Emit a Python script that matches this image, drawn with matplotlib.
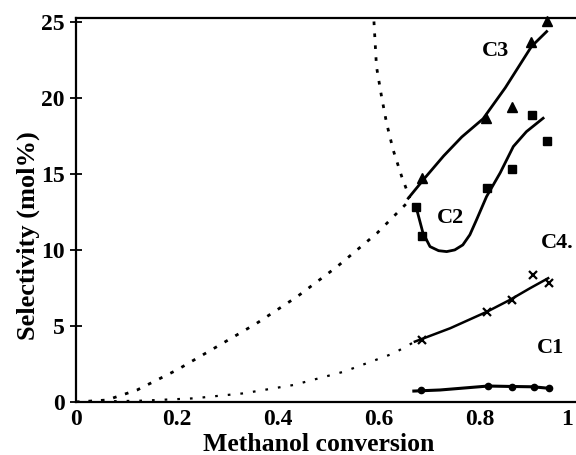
import matplotlib
matplotlib.use("Agg")
import matplotlib.pyplot as plt
from matplotlib.transforms import ScaledTranslation

# ---- data ----
c3_x = [0.685, 0.812, 0.863, 0.901, 0.932]
c3_y = [14.74, 18.68, 19.43, 23.70, 25.02]
c2_x = [0.673, 0.685, 0.814, 0.863, 0.902, 0.933]
c2_y = [12.81, 10.92, 14.06, 15.31, 18.88, 17.17]
c4_x = [0.685, 0.814, 0.863, 0.904, 0.937]
c4_y = [4.08, 5.94, 6.71, 8.36, 7.85]
c1_x = [0.683, 0.816, 0.863, 0.906, 0.937]
c1_y = [0.79, 1.05, 1.01, 0.97, 0.90]

# fitted curves
c3_fit_x = [0.658, 0.691, 0.728, 0.764, 0.806, 0.850, 0.902, 0.932]
c3_fit_y = [13.40, 14.74, 16.18, 17.43, 18.62, 20.66, 23.38, 24.36]
c2_fit_x = [0.675, 0.687, 0.701, 0.718, 0.734, 0.750, 0.766, 0.780, 0.793, 0.813, 0.840, 0.866, 0.892, 0.925]
c2_fit_y = [12.63, 11.12, 10.22, 9.95, 9.89, 10.00, 10.33, 11.00, 11.97, 13.51, 15.07, 16.80, 17.78, 18.66]
c4_fit_x = [0.671, 0.741, 0.814, 0.859, 0.899, 0.935]
c4_fit_y = [3.97, 4.85, 5.94, 6.71, 7.48, 8.14]
c1_fit_x = [0.669, 0.721, 0.816, 0.863, 0.905, 0.937]
c1_fit_y = [0.72, 0.79, 1.05, 1.02, 1.00, 0.90]

# dotted extrapolations
ext_up_x = [0.0, 0.061, 0.121, 0.200, 0.279, 0.358, 0.438, 0.517, 0.596, 0.655]
ext_up_y = [0.0, 0.13, 0.79, 2.11, 3.64, 5.18, 6.93, 8.90, 11.10, 13.07]
ext_lo_x = [0.0, 0.134, 0.233, 0.332, 0.431, 0.530, 0.629, 0.671]
ext_lo_y = [0.0, 0.09, 0.24, 0.57, 1.12, 1.99, 3.20, 3.97]
ext_steep_x = [0.590, 0.595, 0.605, 0.615, 0.628, 0.645, 0.661]
ext_steep_y = [25.02, 22.06, 20.09, 18.34, 16.58, 14.82, 13.40]

x_ticks = [0, 0.2, 0.4, 0.6, 0.8, 1.0]
x_tick_labels = ["0", "0.2", "0.4", "0.6", "0.8", "1"]
y_ticks = [0, 5, 10, 15, 20, 25]
y_tick_labels = ["0", "5", "10", "15", "20", "25"]

labels = ["C3", "C2", "C4.", "C1"]
label_x = [0.830, 0.741, 0.952, 0.939]
label_y = [23.05, 12.09, 10.44, 3.53]

plt.rcParams['font.family'] = ['Liberation Serif', 'DejaVu Serif']
plt.rcParams['font.weight'] = 'bold'

W, H = 576, 455
fig = plt.figure(figsize=(W / 100, H / 100), dpi=100)
left, right, bottom_px, top_px = 76, 581, 402, 18
ax = fig.add_axes([left / W, 1 - bottom_px / H, (right - left) / W, (bottom_px - top_px) / H])

k = 'black'
ax.plot(ext_up_x, ext_up_y, color=k, lw=2.0, linestyle=(0, (1.3, 3.2)))
ax.plot(ext_lo_x, ext_lo_y, color=k, lw=1.6, linestyle=(0, (1.2, 4.5)))
ax.plot(ext_steep_x, ext_steep_y, color=k, lw=2.0, linestyle=(0, (1.3, 3.0)), clip_on=False)

ax.plot(c3_fit_x, c3_fit_y, color=k, lw=2.0)
ax.plot(c2_fit_x, c2_fit_y, color=k, lw=2.0)
ax.plot(c4_fit_x, c4_fit_y, color=k, lw=1.8)
ax.plot(c1_fit_x, c1_fit_y, color=k, lw=2.2)

ax.plot(c3_x, c3_y, linestyle='none', marker='^', ms=6.5, color=k, clip_on=False)
ax.plot(c2_x, c2_y, linestyle='none', marker='s', ms=6, color=k, clip_on=False)
ax.plot(c4_x, c4_y, linestyle='none', marker='x', ms=5.5, mew=1.6, color=k, clip_on=False)
ax.plot(c1_x, c1_y, linestyle='none', marker='o', ms=4.5, color=k, clip_on=False)

for t, tx, ty in zip(labels, label_x, label_y):
    ax.text(tx, ty, t, fontsize=16, fontweight='bold', ha='center', va='center')

ax.set_xlim(0, 1.0)
ax.set_ylim(0, 25.25)
ax.set_xticks(x_ticks)
ax.set_xticklabels(x_tick_labels)
ax.set_yticks(y_ticks)
ax.set_yticklabels(y_tick_labels)
ax.tick_params(axis='x', length=0, pad=5, labelsize=17)
ax.tick_params(axis='y', direction='inout', length=8.5, width=1.3, pad=4, labelsize=17)
for lab in ax.get_xticklabels() + ax.get_yticklabels():
    lab.set_fontweight('bold')
# keep the last x tick label ("1") inside the canvas
last = ax.get_xticklabels()[-1]
last.set_transform(last.get_transform() + ScaledTranslation(-14 / 100, 0, fig.dpi_scale_trans))

ax.spines['right'].set_visible(False)
for s in ['left', 'bottom', 'top']:
    ax.spines[s].set_linewidth(1.6)

ax.set_xlabel("Methanol conversion", fontsize=18.5, fontweight='bold')
ax.set_ylabel("Selectivity (mol%)", fontsize=19, fontweight='bold')
ax.xaxis.set_label_coords(0.481, -0.081)
ax.yaxis.set_label_coords(-0.072, 0.432)

fig.savefig("out.png", dpi=100, facecolor='white')
